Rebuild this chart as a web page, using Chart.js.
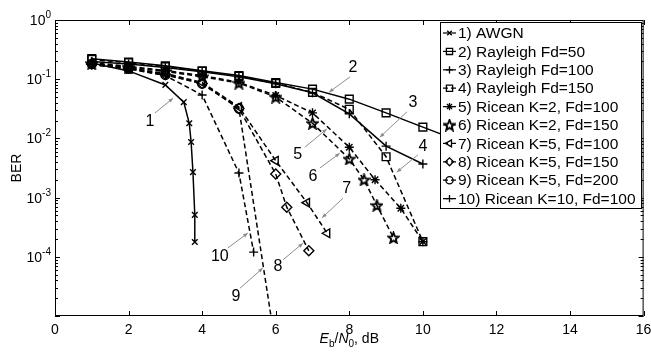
<!DOCTYPE html>
<html>
<head>
<meta charset="utf-8">
<title>BER x Eb/N0</title>
<script src="https://cdn.jsdelivr.net/npm/chart.js@4.4.1/dist/chart.umd.min.js"></script>
<style>
  body { margin: 0; background: #ffffff; }
</style>
</head>
<body>
<canvas id="berChart" width="651" height="356"></canvas>
<script>
// Series names (legend order)
var seriesNames = [
  "1) AWGN",
  "2) Rayleigh Fd=50",
  "3) Rayleigh Fd=100",
  "4) Rayleigh Fd=150",
  "5) Ricean K=2, Fd=100",
  "6) Ricean K=2, Fd=150",
  "7) Ricean K=5, Fd=100",
  "8) Ricean K=5, Fd=150",
  "9) Ricean K=5, Fd=200",
  "10) Ricean K=10, Fd=100"
];

// Eb/N0 (dB) and BER, one pair per curve
var awgnX   = [1, 2, 3, 3.5, 3.65, 3.7, 3.75, 3.8, 3.8];
var awgnBer = [0.188, 0.138, 0.08, 0.041, 0.018, 0.0087, 0.0027, 0.00051, 0.000178];

var ray50X   = [1, 2, 3, 4, 5, 6, 7, 8, 9, 10, 11];
var ray50Ber = [0.222, 0.195, 0.168, 0.139, 0.115, 0.088, 0.068, 0.046, 0.027, 0.0155, 0.009];

var ray100X   = [1, 2, 3, 4, 5, 6, 7, 8, 9, 10];
var ray100Ber = [0.2, 0.18, 0.158, 0.133, 0.11, 0.084, 0.059, 0.026, 0.0074, 0.0037];

var ray150X   = [1, 2, 3, 4, 5, 6, 7, 8, 9, 10];
var ray150Ber = [0.215, 0.19, 0.163, 0.136, 0.112, 0.085, 0.06, 0.031, 0.0049, 0.00018];

var ric2a100X   = [1, 2, 3, 4, 5, 6, 7, 8, 8.7, 9.4, 10];
var ric2a100Ber = [0.19, 0.165, 0.14, 0.115, 0.089, 0.053, 0.027, 0.0071, 0.002, 0.00066, 0.00018];

var ric2a150X   = [1, 2, 3, 4, 5, 6, 7, 8, 8.4, 8.75, 9.2];
var ric2a150Ber = [0.185, 0.16, 0.135, 0.11, 0.086, 0.05, 0.018, 0.0045, 0.002, 0.00074, 0.00021];

var ric5a100X   = [1, 2, 3, 4, 5, 6, 6.85, 7.4];
var ric5a100Ber = [0.18, 0.155, 0.125, 0.088, 0.034, 0.0042, 0.00082, 0.00025];

var ric5a150X   = [1, 2, 3, 4, 5, 6, 6.3, 6.9];
var ric5a150Ber = [0.18, 0.155, 0.12, 0.085, 0.032, 0.0025, 0.00069, 0.000126];

var ric5a200X   = [1, 2, 3, 4, 5, 6];
var ric5a200Ber = [0.18, 0.15, 0.118, 0.084, 0.032, 0.000003];

var ric10a100X   = [1, 2, 3, 4, 5, 5.4];
var ric10a100Ber = [0.175, 0.15, 0.115, 0.054, 0.0026, 0.00012];

// Axis ticks
var xTicks = [0, 2, 4, 6, 8, 10, 12, 14, 16];
var yTickExps = [0, -1, -2, -3, -4];

// Curve numbers with their pointer lines, in data units (x in dB, y as log10 BER)
var curveLabels = [
  { text: "1",  tx: 2.58, ty: -1.72, x0: 2.72, y0: -1.57, x1: 3.21, y1: -1.32 },
  { text: "2",  tx: 8.10, ty: -0.81, x0: 8.02, y0: -0.96, x1: 7.45, y1: -1.22 },
  { text: "3",  tx: 9.73, ty: -1.40, x0: 9.57, y0: -1.55, x1: 8.83, y1: -1.98 },
  { text: "4",  tx: 10.0, ty: -2.13, x0: 9.86, y0: -2.28, x1: 9.29, y1: -2.57 },
  { text: "5",  tx: 6.60, ty: -2.28, x0: 6.79, y0: -2.15, x1: 7.39, y1: -1.84 },
  { text: "6",  tx: 7.01, ty: -2.65, x0: 7.20, y0: -2.50, x1: 7.74, y1: -2.25 },
  { text: "7",  tx: 7.93, ty: -2.85, x0: 7.83, y0: -3.01, x1: 7.26, y1: -3.34 },
  { text: "8",  tx: 6.06, ty: -4.17, x0: 6.20, y0: -4.05, x1: 6.74, y1: -3.77 },
  { text: "9",  tx: 4.92, ty: -4.68, x0: 5.03, y0: -4.53, x1: 5.65, y1: -4.19 },
  { text: "10", tx: 4.48, ty: -3.99, x0: 4.70, y0: -3.85, x1: 5.24, y1: -3.60 }
];

var font = "'Liberation Sans', Arial, sans-serif";

// pentagram marker (Chart.js has none)
function makeStar() {
  var c = document.createElement("canvas");
  c.width = 13;
  c.height = 13;
  var g = c.getContext("2d");
  g.beginPath();
  for (var i = 0; i < 10; i++) {
    var r = (i % 2 === 0) ? 5.6 : 2.4;
    var a = -Math.PI / 2 + i * Math.PI / 5;
    var px = 6.5 + r * Math.cos(a);
    var py = 7 + r * Math.sin(a);
    if (i === 0) g.moveTo(px, py); else g.lineTo(px, py);
  }
  g.closePath();
  g.lineWidth = 1.8;
  g.strokeStyle = "#000";
  g.stroke();
  return c;
}
var starImg = makeStar();

var xLists = [awgnX, ray50X, ray100X, ray150X, ric2a100X, ric2a150X, ric5a100X, ric5a150X, ric5a200X, ric10a100X];
var berLists = [awgnBer, ray50Ber, ray100Ber, ray150Ber, ric2a100Ber, ric2a150Ber, ric5a100Ber, ric5a150Ber, ric5a200Ber, ric10a100Ber];

// styles per curve
var markerStyles = ["crossRot", "rect", "cross", "rect", "star", starImg, "triangle", "rectRot", "circle", "cross"];
var markerRotation = [0, 0, 0, 0, 0, 0, -90, 0, 0, 0];
var markerRadius = [4, 5.5, 4.5, 5.5, 4.5, 6, 5, 5, 4.5, 4.5];
var dashed = [false, false, false, true, true, true, true, true, true, true];

var datasets = seriesNames.map(function(name, i)
{
  return {
    label: name,
    data: xLists[i].map(function(x, j) { return { x: x, y: berLists[i][j] }; }),
    borderColor: "#000",
    borderWidth: 1.5,
    borderDash: dashed[i] ? [5, 3] : [],
    pointStyle: markerStyles[i],
    pointRotation: markerRotation[i],
    pointRadius: markerRadius[i],
    pointBorderColor: "#000",
    pointBackgroundColor: "rgba(0,0,0,0)",
    pointBorderWidth: 1.4,
    tension: 0,
    fill: false
  };
});

// frame, ticks, y labels, titles, curve numbers and the boxed legend
var decorations = {
  id: "decorations",
  afterDatasetsDraw: function(chart)
  {
    var ctx = chart.ctx;
    var area = chart.chartArea;
    var sx = chart.scales.x;
    var sy = chart.scales.y;
    ctx.save();

    // curve numbers
    ctx.font = "16px " + font;
    ctx.textAlign = "center";
    ctx.textBaseline = "middle";
    curveLabels.forEach(function(l)
    {
      var x0 = sx.getPixelForValue(l.x0), y0 = sy.getPixelForValue(Math.pow(10, l.y0));
      var x1 = sx.getPixelForValue(l.x1), y1 = sy.getPixelForValue(Math.pow(10, l.y1));
      ctx.strokeStyle = "#8c8c8c";
      ctx.fillStyle = "#8c8c8c";
      ctx.lineWidth = 1;
      ctx.setLineDash([]);
      ctx.beginPath();
      ctx.moveTo(x0, y0);
      ctx.lineTo(x1, y1);
      ctx.stroke();
      var ang = Math.atan2(y1 - y0, x1 - x0);
      ctx.beginPath();
      ctx.moveTo(x1, y1);
      ctx.lineTo(x1 - 5 * Math.cos(ang - 0.4), y1 - 5 * Math.sin(ang - 0.4));
      ctx.lineTo(x1 - 5 * Math.cos(ang + 0.4), y1 - 5 * Math.sin(ang + 0.4));
      ctx.closePath();
      ctx.fill();
      ctx.fillStyle = "#000";
      ctx.fillText(l.text, sx.getPixelForValue(l.tx), sy.getPixelForValue(Math.pow(10, l.ty)));
    });

    // frame and inward ticks
    ctx.strokeStyle = "#000";
    ctx.lineWidth = 1;
    ctx.strokeRect(area.left + 0.5, area.top + 0.5, area.right - area.left - 1, area.bottom - area.top - 1);
    ctx.beginPath();
    xTicks.forEach(function(v)
    {
      var px = Math.round(sx.getPixelForValue(v)) + 0.5;
      ctx.moveTo(px, area.bottom);
      ctx.lineTo(px, area.bottom - 5);
      ctx.moveTo(px, area.top);
      ctx.lineTo(px, area.top + 5);
    });
    for (var e = -5; e < 0; e++)
    {
      for (var m = 1; m < 10; m++)
      {
        var py = Math.round(sy.getPixelForValue(m * Math.pow(10, e))) + 0.5;
        var len = (m === 1) ? 5 : 3;
        ctx.moveTo(area.left, py);
        ctx.lineTo(area.left + len, py);
        ctx.moveTo(area.right, py);
        ctx.lineTo(area.right - len, py);
      }
    }
    ctx.stroke();

    // y tick labels 10^k
    ctx.fillStyle = "#000";
    ctx.textBaseline = "alphabetic";
    ctx.textAlign = "left";
    yTickExps.forEach(function(k)
    {
      var py = sy.getPixelForValue(Math.pow(10, k));
      var sup = String(k);
      ctx.font = "10px " + font;
      var supW = ctx.measureText(sup).width;
      ctx.font = "14px " + font;
      var baseW = ctx.measureText("10").width;
      var right = area.left - 4;
      ctx.fillText("10", right - supW - baseW, py + 5);
      ctx.font = "10px " + font;
      ctx.fillText(sup, right - supW, py - 2);
    });

    // y title
    ctx.save();
    ctx.translate(16, (area.top + area.bottom) / 2);
    ctx.rotate(-Math.PI / 2);
    ctx.font = "14px " + font;
    ctx.textAlign = "center";
    ctx.fillText("BER", 0, 5);
    ctx.restore();

    // x title: E_b/N_0, dB
    var parts = [
      { t: "E", f: "italic 14px ", dy: 0 },
      { t: "b", f: "10px ", dy: 4 },
      { t: "/", f: "14px ", dy: 0 },
      { t: "N", f: "italic 14px ", dy: 0 },
      { t: "0", f: "10px ", dy: 4 },
      { t: ", dB", f: "14px ", dy: 0 }
    ];
    var total = 0;
    parts.forEach(function(p) { ctx.font = p.f + font; p.w = ctx.measureText(p.t).width; total += p.w; });
    var cx = (area.left + area.right) / 2 - total / 2;
    ctx.textAlign = "left";
    parts.forEach(function(p)
    {
      ctx.font = p.f + font;
      ctx.fillText(p.t, cx, 343 + p.dy);
      cx += p.w;
    });

    // legend box with white fill over the curves
    var lx = 440, ly = 22, lw = 201, lh = 186;
    ctx.fillStyle = "#fff";
    ctx.fillRect(lx, ly, lw, lh);
    ctx.strokeStyle = "#000";
    ctx.lineWidth = 1;
    ctx.strokeRect(lx + 0.5, ly + 0.5, lw, lh);
    chart.data.datasets.forEach(function(ds, i)
    {
      var rowY = 33 + i * 18.4;
      ctx.setLineDash(ds.borderDash);
      ctx.lineWidth = 1.2;
      ctx.strokeStyle = "#000";
      ctx.beginPath();
      ctx.moveTo(443, rowY);
      ctx.lineTo(456, rowY);
      ctx.stroke();
      ctx.setLineDash([]);
      ctx.fillStyle = "rgba(0,0,0,0)";
      ctx.lineWidth = 1.3;
      Chart.helpers.drawPoint(ctx, {
        pointStyle: ds.pointStyle,
        rotation: ds.pointRotation,
        radius: ds.pointRadius * 0.8,
        borderWidth: 1.3
      }, 449.5, rowY);
      ctx.fillStyle = "#000";
      ctx.font = "15.5px " + font;
      ctx.textAlign = "left";
      ctx.textBaseline = "middle";
      ctx.fillText(ds.label, 458, rowY + 1);
    });

    ctx.restore();
  }
};

document.addEventListener("DOMContentLoaded", function()
{
  var ctx = document.getElementById("berChart").getContext("2d");
  new Chart(ctx,
  {
    type: "line",
    data: { datasets: datasets },
    plugins: [decorations],
    options:
    {
      responsive: false,
      animation: false,
      devicePixelRatio: 1,
      layout: { padding: { top: 20, right: 7, left: 0, bottom: 0 } },
      plugins:
      {
        legend: { display: false },
        tooltip: { enabled: false }
      },
      scales:
      {
        x:
        {
          type: "linear",
          min: 0,
          max: 16,
          grid: { display: false, drawTicks: false },
          border: { display: false },
          ticks: { stepSize: 2, color: "#000", padding: 6, font: { family: font, size: 14 } },
          afterFit: function(scale) { scale.height = 40; scale.paddingLeft = 0; scale.paddingRight = 0; }
        },
        y:
        {
          type: "logarithmic",
          min: 0.00001,
          max: 1,
          grid: { display: false, drawTicks: false },
          border: { display: false },
          ticks: { display: false },
          afterFit: function(scale) { scale.width = 55; scale.paddingTop = 0; scale.paddingBottom = 0; }
        }
      }
    }
  });
});
</script>
</body>
</html>
